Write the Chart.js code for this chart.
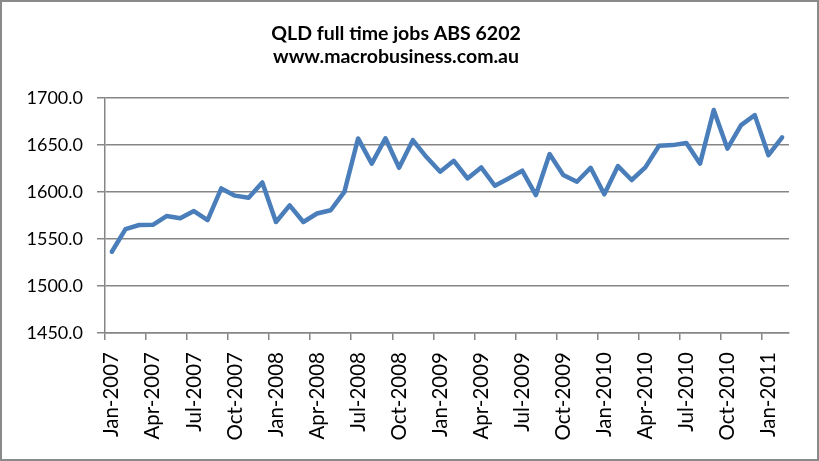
<!DOCTYPE html>
<html>
<head>
<meta charset="utf-8">
<script src="https://cdn.jsdelivr.net/npm/chart.js@4.4.1/dist/chart.umd.min.js"></script>
<style>
  body { margin: 0; background: #fff; }
  #wrap { position: relative; width: 819px; height: 461px; }
  #frame { position: absolute; left: 0; top: 0; width: 819px; height: 461px; box-sizing: border-box; border: 2px solid #8a8a8a; pointer-events: none; }
</style>
</head>
<body>
<div id="wrap">
  <canvas id="chart"></canvas>
  <div id="frame"></div>
</div>
<script>
// data, monthly Jan-2007 .. Feb-2011
const monthNames = ['Jan','Feb','Mar','Apr','May','Jun','Jul','Aug','Sep','Oct','Nov','Dec'];
const years = [2007, 2008, 2009, 2010, 2011];
const fullTimeJobs = [
  1536.4, 1560.5, 1564.8, 1565.0, 1574.3, 1571.9, 1579.6, 1570.0, 1603.7, 1596.0, 1593.8, 1610.0,
  1568.0, 1585.7, 1568.0, 1577.0, 1580.5, 1600.0, 1656.8, 1630.0, 1657.0, 1625.6, 1655.0, 1637.0,
  1621.4, 1633.0, 1614.3, 1626.0, 1606.5, 1614.3, 1622.5, 1596.6, 1640.2, 1618.0, 1610.8, 1625.6,
  1597.4, 1627.4, 1612.6, 1626.0, 1649.0, 1649.7, 1652.0, 1630.0, 1687.0, 1646.0, 1671.0, 1681.6,
  1639.0, 1658.0
];
const yTicks = [1450, 1500, 1550, 1600, 1650, 1700];
const titleLines = ['QLD full time jobs ABS 6202', 'www.macrobusiness.com.au'];

const labels = [];
years.forEach(y => monthNames.forEach(m => {
  if (labels.length < fullTimeJobs.length) labels.push(m + '-' + y);
}));

const FONT = 'Lato, "Open Sans", sans-serif';
const GRID = '#868686';

new Chart(document.getElementById('chart'), {
  type: 'line',
  data: {
    labels,
    datasets: [{
      data: fullTimeJobs,
      borderColor: '#4a7ebb',
      borderWidth: 4.5,
      pointRadius: 0,
      tension: 0,
      borderJoinStyle: 'round',
      borderCapStyle: 'round'
    }]
  },
  options: {
    responsive: true,
    maintainAspectRatio: false,
    animation: false,
    layout: { padding: { left: 0, right: 27, top: 0, bottom: 0 } },
    plugins: {
      legend: { display: false },
      tooltip: { enabled: false },
      title: {
        display: true,
        text: titleLines,
        color: '#000',
        font: { family: FONT, size: 19.5, weight: 'bold', lineHeight: 1.2 },
        padding: { top: 22, bottom: 29 }
      }
    },
    scales: {
      x: {
        offset: true,
        afterFit: s => { s.height = 128; },
        border: { display: true, color: GRID, width: 1.5 },
        grid: {
          offset: true,
          drawOnChartArea: false,
          drawTicks: true,
          tickLength: 7,
          lineWidth: 1.5,
          color: ctx => (ctx.index % 3 === 0 ? GRID : 'rgba(0,0,0,0)')
        },
        ticks: {
          autoSkip: false,
          maxRotation: 90,
          minRotation: 90,
          padding: 12,
          color: '#000',
          font: { family: FONT, size: 20.5 },
          callback: function (v, i) { return i % 3 === 0 ? this.getLabelForValue(v) : ''; }
        }
      },
      y: {
        min: yTicks[0],
        max: yTicks[yTicks.length - 1],
        afterFit: s => { s.width = 105; },
        afterBuildTicks: s => { s.ticks = yTicks.map(v => ({ value: v })); },
        border: { display: true, color: GRID, width: 1.5 },
        grid: { color: GRID, lineWidth: 1.5, tickLength: 8 },
        ticks: {
          padding: 14,
          color: '#000',
          font: { family: FONT, size: 18 },
          callback: v => v.toFixed(1)
        }
      }
    }
  }
});
</script>
</body>
</html>
